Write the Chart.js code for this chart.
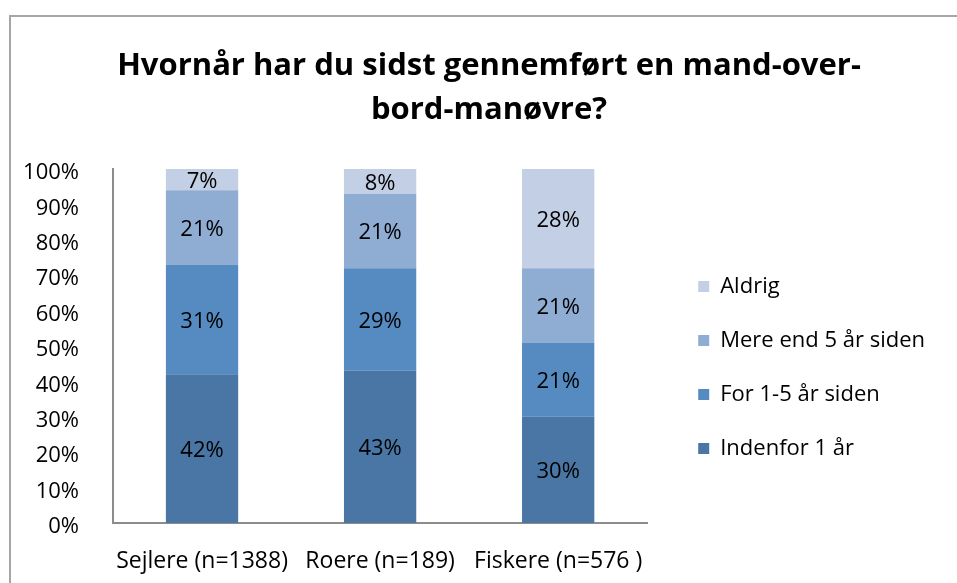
<!DOCTYPE html>
<html>
<head>
<meta charset="utf-8">
<script src="https://cdn.jsdelivr.net/npm/chart.js@4/dist/chart.umd.min.js"></script>
<style>
  html, body { margin: 0; padding: 0; background: #fff; }
  #wrap { position: relative; width: 957px; height: 583px; overflow: hidden; }
  #frame { position: absolute; left: 9px; top: 15px; width: 1000px; height: 700px;
           border-left: 2px solid #a6a6a6; border-top: 2px solid #a6a6a6; }
  canvas { position: absolute; left: 0; top: 0; }
</style>
</head>
<body>
<div id="wrap">
  <div id="frame"></div>
  <canvas id="c" width="957" height="583"></canvas>
</div>
<script>
/* data */
var categories = ['Sejlere (n=1388)', 'Roere (n=189)', 'Fiskere (n=576 )'];
var seriesNames = ['Indenfor 1 år', 'For 1-5 år siden', 'Mere end 5 år siden', 'Aldrig'];
var indenfor1   = [42, 43, 30];
var for1til5    = [31, 29, 21];
var mereEnd5    = [21, 21, 21];
var aldrig      = [7, 8, 28];
var yTicks      = [0, 10, 20, 30, 40, 50, 60, 70, 80, 90, 100];

var COLORS = ['#4A76A5', '#558BC0', '#8FACD2', '#C3CFE4'];
var FONT = '"Open Sans", sans-serif';

var values = [indenfor1, for1til5, mereEnd5, aldrig];
var datasets = values.map(function (v, i) {
    return {
        label: seriesNames[i],
        data: v,
        backgroundColor: COLORS[i],
        borderWidth: 0,
        barPercentage: 0.406,
        categoryPercentage: 1.0
    };
});

// percent labels in the middle of each visible segment
var segmentLabels = {
    id: 'segmentLabels',
    afterDatasetsDraw: function (chart) {
        var ctx = chart.ctx;
        var area = chart.chartArea;
        ctx.save();
        ctx.font = '22px ' + FONT;
        ctx.fillStyle = '#000';
        ctx.textAlign = 'center';
        ctx.textBaseline = 'middle';
        chart.data.datasets.forEach(function (ds, di) {
            chart.getDatasetMeta(di).data.forEach(function (bar, i) {
                var top = Math.max(bar.y, area.top);
                var bottom = Math.min(bar.base, area.bottom);
                ctx.fillText(ds.data[i] + '%', bar.x, (top + bottom) / 2 + 2);
            });
        });
        ctx.restore();
    }
};

// nudge legend and title to where they sit in the reference
var boxShift = {
    id: 'boxShift',
    afterLayout: function (chart) {
        var lg = chart.legend;
        if (lg) {
            lg.left += 19; lg.right += 19;
            lg.top += 76; lg.bottom += 76;
        }
        var tb = chart.titleBlock;
        if (tb) {
            tb.left += 31; tb.right += 31;
        }
    }
};

new Chart(document.getElementById('c'), {
    type: 'bar',
    data: { labels: categories, datasets: datasets },
    plugins: [segmentLabels, boxShift],
    options: {
        responsive: false,
        animation: false,
        layout: { padding: { left: 0, right: 41, top: 0, bottom: 0 } },
        plugins: {
            title: {
                display: true,
                text: ['Hvornår har du sidst gennemført en mand-over-', 'bord-manøvre?'],
                color: '#000',
                font: { family: FONT, size: 31, weight: 'bold', lineHeight: 1.42 },
                padding: { top: 44, bottom: 37 }
            },
            legend: {
                position: 'right',
                reverse: true,
                maxWidth: 400,
                labels: {
                    color: '#000',
                    font: { family: FONT, size: 22 },
                    boxWidth: 11,
                    boxHeight: 11,
                    padding: 32
                }
            },
            tooltip: { enabled: false }
        },
        scales: {
            x: {
                stacked: true,
                grid: { display: false },
                border: { color: '#8c8c8c', width: 2 },
                ticks: { color: '#000', font: { family: FONT, size: 23 }, padding: 17, maxRotation: 0 },
                afterFit: function (s) { s.height = 60; }
            },
            y: {
                stacked: true,
                min: 0,
                max: 100,
                grid: { display: false },
                border: { color: '#8c8c8c', width: 2 },
                afterBuildTicks: function (s) {
                    s.ticks = yTicks.map(function (v) { return { value: v }; });
                },
                ticks: {
                    color: '#000',
                    font: { family: FONT, size: 22 },
                    padding: 26,
                    labelOffset: 4,
                    callback: function (v) { return v + '%'; }
                },
                afterFit: function (s) { s.width = 113; }
            }
        }
    }
});
</script>
</body>
</html>
